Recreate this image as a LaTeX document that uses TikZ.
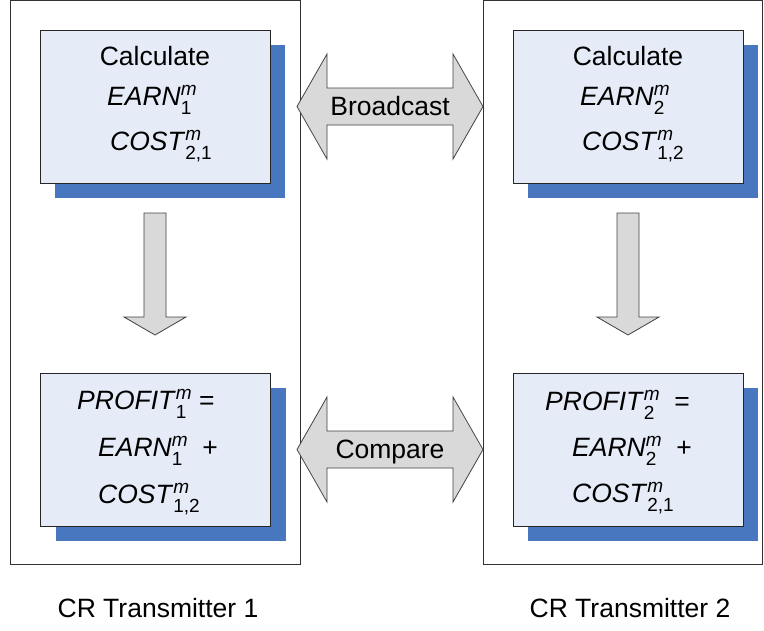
\documentclass[tikz,border=0pt]{standalone}
\usepackage{fontspec}
\setmainfont{Liberation Sans}
\usetikzlibrary{shadows}

\definecolor{boxfill}{RGB}{230,236,247}
\definecolor{shadowblue}{RGB}{72,119,191}
\definecolor{arrowgray}{RGB}{217,217,217}
\definecolor{framegray}{RGB}{50,50,50}

% superscript #1 (italic) stacked over subscript #2
\newcommand\supsub[2]{{\fontsize{19}{19}\selectfont
  \setbox0=\hbox{\raise 9.8pt\hbox{\itshape #1}}%
  \setbox2=\hbox{\lower 9.5pt\hbox{#2}}%
  \ifdim\wd0>\wd2 \rlap{\box2}\box0 \else \rlap{\box0}\box2 \fi}}

\begin{document}
\begin{tikzpicture}[x=1pt,y=-1pt,
  frame/.style={draw=framegray,line width=1pt},
  calcbox/.style={draw=black!85,line width=1pt,fill=boxfill,
    minimum width=230pt,minimum height=153pt,inner sep=0pt,
    general shadow={fill=shadowblue,shadow xshift=15pt,shadow yshift=-15pt}},
  blockarrow/.style={draw=black!75,line width=0.8pt,fill=arrowgray,line join=miter},
  txt/.style={font=\fontsize{26.5}{26.5}\selectfont,inner sep=0pt,anchor=base west},
  ctxt/.style={font=\fontsize{26.5}{26.5}\selectfont,inner sep=0pt,anchor=base},
]
\useasboundingbox (0,0) rectangle (764,630);

% transmitter frames
\draw[frame] (10,0.5) rectangle (300,564);
\draw[frame] (483,0.5) rectangle (762.5,564);

% calculation boxes
\node[calcbox] (c1) at (155,106.5) {};
\node[calcbox] (c2) at (628,106.5) {};
\node[calcbox] (p1) at (155.5,449.5) {};
\node[calcbox] (p2) at (628,449.5) {};

% texts of the upper boxes
\node[ctxt] (c1a) at (155,65) {Calculate};
\node[txt] (c1b) at (107,105) {\textit{EARN}\supsub{m}{1}};
\node[txt] (c1c) at (110,150) {\textit{COST}\supsub{m}{2,1}};
\node[ctxt] (c2a) at (628,65) {Calculate};
\node[txt] (c2b) at (580,105) {\textit{EARN}\supsub{m}{2}};
\node[txt] (c2c) at (582,150) {\textit{COST}\supsub{m}{1,2}};

% texts of the lower boxes
\node[txt] (p1a) at (77,409) {\textit{PROFIT}\supsub{m}{1} =};
\node[txt] (p1b) at (98,456) {\textit{EARN}\supsub{m}{1}\ \ +};
\node[txt] (p1c) at (98,503) {\textit{COST}\supsub{m}{1,2}};
\node[txt] (p2a) at (545,410) {\textit{PROFIT}\supsub{m}{2}\ \ =};
\node[txt] (p2b) at (572,456) {\textit{EARN}\supsub{m}{2}\ \ +};
\node[txt] (p2c) at (572,502) {\textit{COST}\supsub{m}{2,1}};

% double block arrows between the transmitters
\draw[blockarrow] (297,106.5) -- (327,54) -- (327,88) -- (453,88) -- (453,54)
  -- (483,106.5) -- (453,159) -- (453,125) -- (327,125) -- (327,159) -- cycle;
\node[ctxt] (bc) at (390,115) {Broadcast};
\draw[blockarrow] (297,449.5) -- (327,397) -- (327,431) -- (453,431) -- (453,397)
  -- (483,449.5) -- (453,502) -- (453,468) -- (327,468) -- (327,502) -- cycle;
\node[ctxt] (cm) at (390,458) {Compare};

% downward block arrows inside each transmitter
\draw[blockarrow] (144,213) -- (166,213) -- (166,317) -- (186,317) -- (155,335)
  -- (124,317) -- (144,317) -- cycle;
\draw[blockarrow] (617,213) -- (639,213) -- (639,317) -- (659,317) -- (628,335)
  -- (597,317) -- (617,317) -- cycle;

% captions
\node[ctxt] (t1) at (158,617) {CR Transmitter 1};
\node[ctxt] (t2) at (630,617) {CR Transmitter 2};
\end{tikzpicture}
\end{document}
